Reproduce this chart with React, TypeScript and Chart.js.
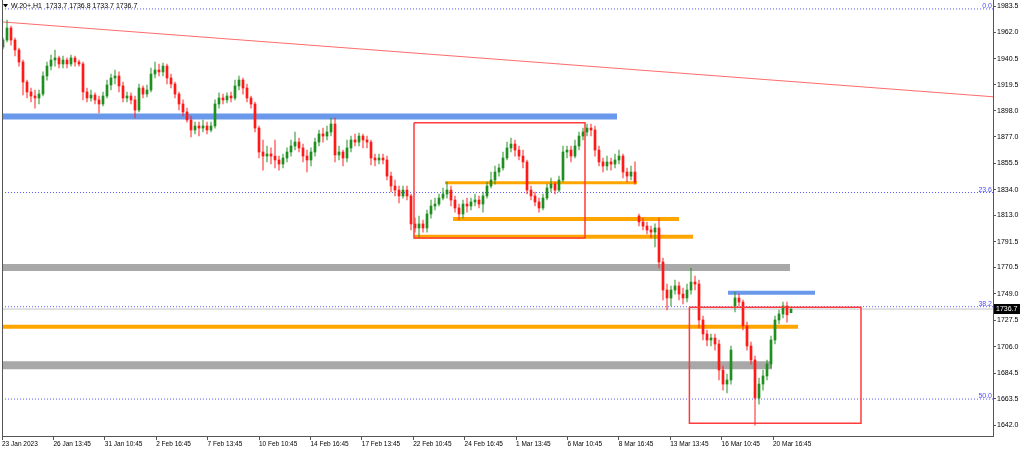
import React, { useEffect, useRef } from 'react';
import { Chart, registerables } from 'chart.js';

Chart.register(...registerables);

// ---- Candles (H1 bars, index 0 = 23 Jan 2023) ----
const opens = [
  1950.1,1955.8,1965.6,1955.8,1947.7,1937.9,1921.6,1913.5,1910.2,1908.6,
  1911.8,1926.5,1934.6,1939.5,1941.2,1936.3,1939.5,1936.3,1941.2,1937.9,
  1936.3,1913.5,1908.6,1911.0,1907.0,1903.7,1910.2,1919.2,1924.9,1926.5,
  1918.4,1908.6,1910.2,1907.0,1898.8,1916.7,1911.8,1915.1,1928.1,1931.4,
  1929.8,1934.6,1924.9,1920.0,1911.8,1903.7,1897.2,1890.7,1882.5,1885.8,
  1884.1,1885.8,1882.5,1885.8,1903.7,1908.6,1907.0,1910.2,1908.6,1918.4,
  1923.2,1916.7,1908.6,1903.7,1884.1,1864.6,1861.3,1863.0,1861.3,1858.1,
  1854.8,1859.7,1864.6,1869.5,1872.7,1867.9,1861.3,1858.1,1864.6,1872.7,
  1879.3,1877.6,1880.9,1887.4,1862.2,1864.6,1859.7,1867.9,1874.4,1872.7,
  1877.6,1874.4,1872.7,1859.7,1858.1,1859.7,1858.1,1845.0,1836.9,1833.6,
  1828.8,1833.6,1828.8,1806.0,1802.7,1806.0,1802.7,1814.1,1820.6,1822.2,
  1827.1,1830.4,1833.6,1825.5,1819.0,1814.1,1822.2,1820.6,1823.9,1825.5,
  1822.2,1828.8,1836.9,1841.8,1848.3,1851.6,1859.7,1867.9,1871.1,1866.2,
  1861.3,1856.5,1833.6,1828.8,1823.9,1819.0,1827.1,1835.3,1838.5,1833.6,
  1841.8,1864.6,1866.2,1861.3,1869.5,1877.6,1880.9,1884.1,1882.5,1866.2,
  1856.5,1853.2,1856.5,1854.8,1858.1,1861.3,1848.3,1845.0,1848.3,1812.5,
  1807.6,1804.3,1801.1,1799.4,1802.7,1775.0,1752.2,1745.7,1752.2,1755.5,
  1748.9,1745.7,1752.2,1758.7,1757.1,1727.8,1716.4,1711.5,1713.1,1708.2,
  1687.0,1675.6,1678.9,1739.2,1745.7,1742.4,1722.9,1706.6,1695.2,1664.2,
  1675.6,1682.2,1691.9,1711.5,1727.8,1732.7,1739.2,1733.7,
];
const highs = [
  1957.4,1972.1,1967.2,1957.4,1949.3,1939.5,1923.2,1916.7,1915.1,1915.1,
  1929.8,1937.9,1943.6,1947.7,1942.8,1942.8,1941.2,1943.6,1942.8,1939.5,
  1937.9,1916.7,1915.1,1912.7,1910.2,1913.5,1923.2,1928.1,1931.4,1929.8,
  1921.6,1913.5,1912.7,1910.2,1920.0,1918.4,1919.2,1933.0,1937.9,1936.3,
  1937.1,1936.3,1928.1,1921.6,1913.5,1907.0,1900.4,1893.9,1889.0,1889.0,
  1890.7,1889.0,1889.0,1907.0,1912.7,1911.8,1912.7,1913.5,1923.2,1926.5,
  1924.9,1920.0,1910.2,1905.3,1885.8,1874.4,1869.5,1867.9,1874.4,1861.3,
  1863.0,1867.9,1874.4,1880.9,1876.0,1871.1,1866.2,1867.9,1876.0,1882.5,
  1884.1,1885.8,1892.3,1892.3,1869.5,1866.2,1874.4,1877.6,1879.3,1880.1,
  1879.3,1877.6,1874.4,1863.0,1863.0,1863.0,1861.3,1848.3,1841.8,1836.9,
  1836.9,1836.9,1830.4,1810.8,1812.5,1809.2,1817.4,1825.5,1827.1,1830.4,
  1835.3,1840.2,1836.9,1828.8,1822.2,1825.5,1827.1,1827.1,1830.4,1828.8,
  1832.0,1840.2,1848.3,1853.2,1854.8,1864.6,1872.7,1876.0,1874.4,1869.5,
  1866.2,1858.1,1836.9,1832.0,1827.1,1830.4,1838.5,1843.4,1840.2,1845.0,
  1869.5,1869.5,1869.5,1874.4,1880.9,1884.1,1887.4,1887.4,1885.8,1869.5,
  1859.7,1861.3,1859.7,1863.0,1866.2,1863.0,1851.6,1853.2,1856.5,1814.1,
  1810.8,1807.6,1804.3,1806.0,1810.8,1778.3,1757.1,1755.5,1760.3,1758.7,
  1753.8,1757.1,1770.1,1763.6,1760.3,1731.0,1719.6,1716.4,1716.4,1711.5,
  1690.3,1683.8,1706.6,1750.6,1748.9,1744.1,1726.1,1709.8,1698.4,1680.5,
  1687.0,1695.2,1714.7,1731.0,1735.9,1742.4,1742.4,1736.8,
];
const lows = [
  1948.5,1954.2,1951.7,1942.8,1934.6,1911.0,1908.6,1905.3,1900.4,1903.7,
  1910.2,1923.2,1931.4,1934.6,1933.0,1933.0,1933.0,1934.6,1934.6,1934.6,
  1907.0,1905.3,1906.1,1903.7,1896.4,1902.1,1908.6,1915.1,1920.0,1913.5,
  1905.3,1905.3,1903.7,1892.3,1897.2,1908.6,1909.4,1913.5,1924.9,1926.5,
  1926.5,1920.0,1916.7,1908.6,1898.8,1893.9,1889.0,1876.8,1879.3,1877.6,
  1880.9,1879.3,1880.9,1884.1,1900.4,1903.7,1904.5,1905.3,1907.0,1915.1,
  1911.8,1905.3,1900.4,1880.9,1859.7,1849.9,1856.5,1854.8,1851.6,1849.9,
  1851.6,1856.5,1861.3,1866.2,1864.6,1856.5,1848.3,1853.2,1861.3,1869.5,
  1872.7,1874.4,1877.6,1856.5,1858.1,1853.2,1856.5,1864.6,1869.5,1869.5,
  1867.9,1867.9,1854.0,1853.2,1854.8,1854.8,1841.8,1832.0,1828.8,1823.1,
  1827.1,1825.5,1801.1,1799.4,1794.6,1799.4,1799.4,1810.8,1817.4,1820.6,
  1825.5,1827.1,1820.6,1815.7,1809.2,1810.8,1815.7,1817.4,1820.6,1819.0,
  1815.7,1827.1,1835.3,1838.5,1845.0,1849.9,1858.1,1864.6,1861.3,1858.1,
  1851.6,1830.4,1825.5,1820.6,1815.7,1817.4,1825.5,1832.0,1830.4,1832.0,
  1840.2,1859.7,1856.5,1859.7,1866.2,1874.4,1877.6,1877.6,1861.3,1853.2,
  1848.3,1849.9,1849.9,1851.6,1854.8,1843.4,1840.2,1841.8,1838.5,1804.3,
  1801.1,1797.8,1794.6,1787.2,1770.1,1744.1,1735.9,1739.2,1748.9,1744.1,
  1740.8,1742.4,1748.9,1752.2,1721.2,1711.5,1706.6,1706.6,1703.3,1678.9,
  1670.7,1668.3,1675.6,1734.3,1739.2,1719.6,1703.3,1691.9,1642.2,1659.3,
  1670.7,1678.9,1688.7,1708.2,1724.5,1729.4,1726.1,1733.7,
];
const closes = [
  1955.8,1965.6,1955.8,1947.7,1937.9,1921.6,1913.5,1910.2,1908.6,1911.8,
  1926.5,1934.6,1939.5,1941.2,1936.3,1939.5,1936.3,1941.2,1937.9,1936.3,
  1913.5,1908.6,1911.0,1907.0,1903.7,1910.2,1919.2,1924.9,1926.5,1918.4,
  1908.6,1910.2,1907.0,1898.8,1916.7,1911.8,1915.1,1928.1,1931.4,1929.8,
  1934.6,1924.9,1920.0,1911.8,1903.7,1897.2,1890.7,1882.5,1885.8,1884.1,
  1885.8,1882.5,1885.8,1903.7,1908.6,1907.0,1910.2,1908.6,1918.4,1923.2,
  1916.7,1908.6,1903.7,1884.1,1864.6,1861.3,1863.0,1861.3,1858.1,1854.8,
  1859.7,1864.6,1869.5,1872.7,1867.9,1861.3,1858.1,1864.6,1872.7,1879.3,
  1877.6,1880.9,1887.4,1862.2,1864.6,1859.7,1867.9,1874.4,1872.7,1877.6,
  1874.4,1872.7,1859.7,1858.1,1859.7,1858.1,1845.0,1836.9,1833.6,1828.8,
  1833.6,1828.8,1806.0,1802.7,1806.0,1802.7,1814.1,1820.6,1822.2,1827.1,
  1830.4,1833.6,1825.5,1819.0,1814.1,1822.2,1820.6,1823.9,1825.5,1822.2,
  1828.8,1836.9,1841.8,1848.3,1851.6,1859.7,1867.9,1871.1,1866.2,1861.3,
  1856.5,1833.6,1828.8,1823.9,1819.0,1827.1,1835.3,1838.5,1833.6,1841.8,
  1864.6,1866.2,1861.3,1869.5,1877.6,1880.9,1884.1,1882.5,1866.2,1856.5,
  1853.2,1856.5,1854.8,1858.1,1861.3,1848.3,1845.0,1848.3,1840.2,1807.6,
  1804.3,1801.1,1799.4,1802.7,1775.0,1752.2,1745.7,1752.2,1755.5,1748.9,
  1745.7,1752.2,1758.7,1757.1,1727.8,1716.4,1711.5,1713.1,1708.2,1687.0,
  1675.6,1678.9,1703.3,1745.7,1742.4,1722.9,1706.6,1695.2,1664.2,1675.6,
  1682.2,1691.9,1711.5,1727.8,1732.7,1739.2,1732.0,1736.7,
];

const headerText = 'W.20+,H1  1733.7 1736.8 1733.7 1736.7';
const lastPrice = 1736.7;

// ---- Axes ----
const yTickValues = [1983.5, 1962.0, 1940.5, 1919.5, 1898.0, 1877.0, 1855.5, 1834.0, 1813.0, 1791.5, 1770.5, 1749.0, 1727.5, 1706.0, 1684.5, 1663.5, 1642.0];
const xTickLabels = ['23 Jan 2023', '26 Jan 13:45', '31 Jan 10:45', '2 Feb 16:45', '7 Feb 13:45', '10 Feb 10:45', '14 Feb 16:45', '17 Feb 13:45', '22 Feb 10:45', '24 Feb 16:45', '1 Mar 13:45', '6 Mar 10:45', '8 Mar 16:45', '13 Mar 13:45', '16 Mar 10:45', '20 Mar 16:45'];
const xTickBars = [-0.25, 12.6, 25.45, 38.3, 51.15, 64.0, 76.85, 89.7, 102.55, 115.4, 128.25, 141.1, 153.95, 166.8, 179.65, 192.5];

// ---- Drawn objects (bar index, price) ----
const trendLine = [{ bar: 0, price: 1970.5 }, { bar: 247.5, price: 1909.6 }];
const blueZones = [
  { from: -0.25, to: 153.5, price: 1893.5 },
  { from: 181.25, to: 203, price: 1750.0 },
];
const orangeLevels = [
  { from: 110.5, to: 158.5, price: 1839.6 },
  { from: 112.5, to: 169, price: 1810.0 },
  { from: 102.75, to: 172.5, price: 1795.6 },
  { from: -0.25, to: 198.75, price: 1722.3 },
];
const grayZones = [
  { from: -0.25, to: 196.75, price: 1770.5 },
  { from: -0.25, to: 192.25, price: 1690.9 },
];
const boxes = [
  { from: 102.75, to: 145.5, top: 1888.5, bottom: 1794.6 },
  { from: 171.6, to: 214.5, top: 1738.1, bottom: 1643.6 },
];
const fibLabels = ['0.0', '23.6', '38.2', '50.0'];
const fibPrices = [1981.1, 1831.6, 1738.6, 1663.4];

const X_MIN = -0.25;
const X_MAX = 247.5;

const blueWidths = [6, 4];
const orangeWidths = [3, 4, 4, 4];
const grayWidths = [7, 8];

function hLine(from: number, to: number, price: number, color: string, width: number, extra: any = {}) {
  return {
    type: 'line',
    data: [{ x: from, y: price }, { x: to, y: price }],
    borderColor: color,
    borderWidth: width,
    pointRadius: 0,
    pointHoverRadius: 0,
    fill: false,
    tension: 0,
    borderCapStyle: 'butt',
    order: 5,
    ...extra,
  };
}

const decorPlugin = {
  id: 'decor',
  afterDraw(chart: any) {
    const { ctx, chartArea: a, scales } = chart;
    const y = scales.y;
    ctx.save();
    // left frame line
    ctx.strokeStyle = '#555';
    ctx.lineWidth = 1;
    ctx.beginPath();
    ctx.moveTo(a.left + 0.5, a.top);
    ctx.lineTo(a.left + 0.5, a.bottom);
    ctx.stroke();
    // header
    ctx.fillStyle = '#000';
    ctx.beginPath();
    ctx.moveTo(3, 4);
    ctx.lineTo(8, 4);
    ctx.lineTo(5.5, 7.5);
    ctx.closePath();
    ctx.fill();
    ctx.font = '7px "Liberation Sans", Arial, sans-serif';
    ctx.textBaseline = 'middle';
    ctx.textAlign = 'left';
    ctx.fillText(headerText, 11, 6);
    // fib labels
    ctx.fillStyle = '#4b4bff';
    ctx.textAlign = 'right';
    ctx.textBaseline = 'bottom';
    fibPrices.forEach((p, i) => {
      ctx.fillText(fibLabels[i], a.right - 1, y.getPixelForValue(p) + 1);
    });
    // current price box
    const py = Math.round(y.getPixelForValue(lastPrice));
    ctx.fillStyle = '#000';
    ctx.fillRect(a.right + 1, py - 5, 26, 10);
    ctx.fillStyle = '#fff';
    ctx.textAlign = 'left';
    ctx.textBaseline = 'middle';
    ctx.fillText(lastPrice.toFixed(1), a.right + 3, py);
    ctx.restore();
  },
};

export default function App() {
  const ref = useRef<HTMLCanvasElement | null>(null);

  useEffect(() => {
    document.body.style.margin = '0';
    const canvas = ref.current;
    if (!canvas) return;

    const bull = '#1f8f1f';
    const bear = '#ff1a1a';
    const bullWick = 'rgba(31,143,31,0.6)';
    const bearWick = 'rgba(255,30,30,0.6)';
    const isBull = closes.map((c, i) => c >= opens[i]);

    const datasets: any[] = [];

    // fib dotted lines
    fibPrices.forEach((p) => {
      datasets.push(hLine(X_MIN, X_MAX, p, '#5b5bff', 1, { borderDash: [1, 2], order: 9 }));
    });
    // current price line
    datasets.push(hLine(X_MIN, X_MAX, lastPrice, '#c4c4c4', 1, { order: 9 }));
    // gray zones
    grayZones.forEach((z, i) => datasets.push(hLine(z.from, z.to, z.price, '#a8a8a8', grayWidths[i], { order: 8 })));
    // blue zones
    blueZones.forEach((z, i) => datasets.push(hLine(z.from, z.to, z.price, '#6a98ea', blueWidths[i], { order: 8 })));
    // orange levels
    orangeLevels.forEach((z, i) => datasets.push(hLine(z.from, z.to, z.price, '#ffa500', orangeWidths[i], { order: 7 })));
    // trend line
    datasets.push({
      type: 'line',
      data: trendLine.map((p) => ({ x: p.bar, y: p.price })),
      borderColor: '#ff6b6b',
      borderWidth: 1,
      pointRadius: 0,
      fill: false,
      order: 6,
    });
    // rectangles
    boxes.forEach((b) => {
      datasets.push({
        type: 'line',
        data: [
          { x: b.from, y: b.top },
          { x: b.to, y: b.top },
          { x: b.to, y: b.bottom },
          { x: b.from, y: b.bottom },
          { x: b.from, y: b.top },
        ],
        borderColor: '#ff3b3b',
        borderWidth: 1.5,
        borderJoinStyle: 'miter',
        pointRadius: 0,
        fill: false,
        tension: 0,
        order: 1,
      });
    });
    // wicks
    datasets.push({
      type: 'bar',
      data: closes.map((_, i) => ({ x: i, y: [lows[i], highs[i]] })),
      backgroundColor: isBull.map((b) => (b ? bullWick : bearWick)),
      barThickness: 1,
      grouped: false,
      borderWidth: 0,
      order: 3,
    });
    // bodies
    datasets.push({
      type: 'bar',
      data: closes.map((c, i) => ({ x: i, y: [opens[i], c] })),
      backgroundColor: isBull.map((b) => (b ? bull : bear)),
      barThickness: 2,
      grouped: false,
      minBarLength: 1,
      borderWidth: 0,
      order: 2,
    });

    const chart = new Chart(canvas, {
      type: 'bar',
      data: { datasets },
      plugins: [decorPlugin],
      options: {
        animation: false,
        responsive: false,
        devicePixelRatio: 1,
        font: { family: '"Liberation Sans", Arial, sans-serif' } as any,
        layout: { padding: { left: 2, right: 0, top: 0, bottom: 0 } },
        plugins: { legend: { display: false }, tooltip: { enabled: false } },
        events: [],
        scales: {
          x: {
            type: 'linear',
            min: X_MIN,
            max: X_MAX,
            offset: false,
            afterBuildTicks: (s: any) => {
              s.ticks = xTickBars.map((v) => ({ value: v }));
            },
            afterFit: (s: any) => {
              s.height = 13;
              s.paddingLeft = 0;
              s.paddingRight = 0;
            },
            grid: { drawOnChartArea: false, drawTicks: true, tickLength: 4, color: '#555', offset: false },
            border: { display: true, color: '#555' },
            ticks: {
              align: 'start',
              maxRotation: 0,
              minRotation: 0,
              autoSkip: false,
              padding: 0,
              color: '#000',
              font: { size: 6.5, family: '"Liberation Sans", Arial, sans-serif' },
              callback: (_v: any, i: number) => xTickLabels[i] ?? '',
            },
          },
          y: {
            type: 'linear',
            position: 'right',
            min: 1633.3,
            max: 1988.4,
            afterBuildTicks: (s: any) => {
              s.ticks = yTickValues.map((v) => ({ value: v }));
            },
            afterFit: (s: any) => {
              s.width = 31;
              s.paddingTop = 0;
              s.paddingBottom = 0;
            },
            grid: { drawOnChartArea: false, drawTicks: true, tickLength: 3, color: '#555' },
            border: { display: true, color: '#555' },
            ticks: {
              padding: 1,
              color: '#000',
              font: { size: 7, family: '"Liberation Sans", Arial, sans-serif' },
              callback: (v: any) => Number(v).toFixed(1),
            },
          },
        },
      } as any,
    });

    return () => chart.destroy();
  }, []);

  return (
    <div style={{ position: 'fixed', left: 0, top: 0, width: 1024, height: 449, background: '#fff' }}>
      <canvas ref={ref} width={1024} height={449} style={{ display: 'block', width: 1024, height: 449 }} />
    </div>
  );
}
